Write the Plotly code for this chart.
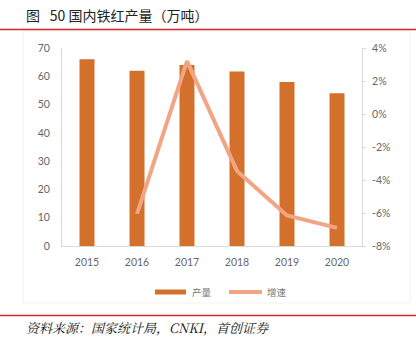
import plotly.graph_objects as go

years = ["2015", "2016", "2017", "2018", "2019", "2020"]
output = [66, 62, 64, 61.7, 58, 54]
growth_years = ["2016", "2017", "2018", "2019", "2020"]
growth = [-6.06, 3.2, -3.45, -6.15, -6.9]
left_ticks = [0, 10, 20, 30, 40, 50, 60, 70]
right_ticks = [-8, -6, -4, -2, 0, 2, 4]
right_tick_labels = ["-8%", "-6%", "-4%", "-2%", "0%", "2%", "4%"]
bar_name = "产量"
line_name = "增速"
title_text = "图\u2002\u200950 国内铁红产量（万吨）"
source_text = "资料来源：国家统计局，CNKI，首创证券"

BAR_COLOR = "#D2702C"
LINE_COLOR = "#F2A584"
TICK_FONT = dict(family="Lato, 'Liberation Sans', sans-serif", size=10.5, color="#666666")
CJK = "'Noto Sans CJK SC', sans-serif"

fig = go.Figure()
fig.add_trace(go.Bar(x=years, y=output, name=bar_name, marker_color=BAR_COLOR,
                     marker_line_width=0, width=0.3, yaxis="y", showlegend=False))
fig.add_trace(go.Scatter(x=growth_years, y=growth, name=line_name, mode="lines",
                         line=dict(color=LINE_COLOR, width=4), yaxis="y2", showlegend=False))

W, H = 416, 338
L, R, T, B = 62, 54, 48, 92

fig.update_layout(
    width=W, height=H,
    margin=dict(l=L, r=R, t=T, b=B, pad=0),
    paper_bgcolor="white", plot_bgcolor="white",
    xaxis=dict(type="category", categoryorder="array", categoryarray=years,
               range=[-0.5, 5.5], showline=True, linecolor="#D9D9D9", linewidth=1,
               ticks="", tickfont=TICK_FONT, showgrid=False, zeroline=False,
               ticklabelstandoff=6),
    yaxis=dict(range=[0, 70], tickvals=left_ticks, showline=True, linecolor="#D9D9D9",
               linewidth=1, ticks="", tickfont=TICK_FONT, showgrid=False, zeroline=False,
               ticklabelstandoff=9),
    yaxis2=dict(range=[-8, 4], tickvals=right_ticks, ticktext=right_tick_labels,
                overlaying="y", side="right", showline=True, linecolor="#D9D9D9",
                linewidth=1, ticks="outside", ticklen=3, tickcolor="#D9D9D9",
                tickfont=TICK_FONT, showgrid=False, zeroline=False, ticklabelstandoff=4),
    showlegend=False,
)

pw, ph = W - L - R, H - T - B
def fx(x):
    return (x - L) / pw
def fy(y):
    return 1 - (y - T) / ph

shapes = [
    # red rules
    dict(type="line", xref="paper", yref="paper", x0=fx(0), x1=fx(W),
         y0=fy(29.5), y1=fy(29.5), line=dict(color="#D0282E", width=1.5)),
    dict(type="line", xref="paper", yref="paper", x0=fx(0), x1=fx(W),
         y0=fy(315.5), y1=fy(315.5), line=dict(color="#D0282E", width=1.5)),
    # faint panel border
    dict(type="rect", xref="paper", yref="paper",
         x0=fx(23), x1=fx(410), y0=fy(303), y1=fy(31),
         line=dict(color="#F2F2F2", width=1), fillcolor="rgba(0,0,0,0)", layer="below"),
    # legend symbols
    dict(type="line", xref="paper", yref="paper", x0=fx(155), x1=fx(186),
         y0=fy(292), y1=fy(292), line=dict(color=BAR_COLOR, width=5)),
    dict(type="line", xref="paper", yref="paper", x0=fx(229), x1=fx(262),
         y0=fy(292), y1=fy(292), line=dict(color=LINE_COLOR, width=4)),
]

annotations = [
    dict(text=title_text, xref="paper", yref="paper", x=fx(24), y=fy(15), xanchor="left",
         yanchor="middle", showarrow=False,
         font=dict(family="'Noto Sans CJK SC', serif", size=14, color="#222222")),
    dict(text="<i>" + source_text + "</i>", xref="paper", yref="paper", x=fx(24), y=fy(327),
         xanchor="left", yanchor="middle", showarrow=False,
         font=dict(family="'Noto Serif CJK SC', 'Noto Sans CJK SC', serif", size=13, color="#111111")),
    dict(text=bar_name, xref="paper", yref="paper", x=fx(190), y=fy(292), xanchor="left",
         yanchor="middle", showarrow=False, font=dict(family=CJK, size=9.5, color="#777777")),
    dict(text=line_name, xref="paper", yref="paper", x=fx(265), y=fy(292), xanchor="left",
         yanchor="middle", showarrow=False, font=dict(family=CJK, size=9.5, color="#777777")),
]

fig.update_layout(shapes=shapes, annotations=annotations)
fig.write_html("out.html")
